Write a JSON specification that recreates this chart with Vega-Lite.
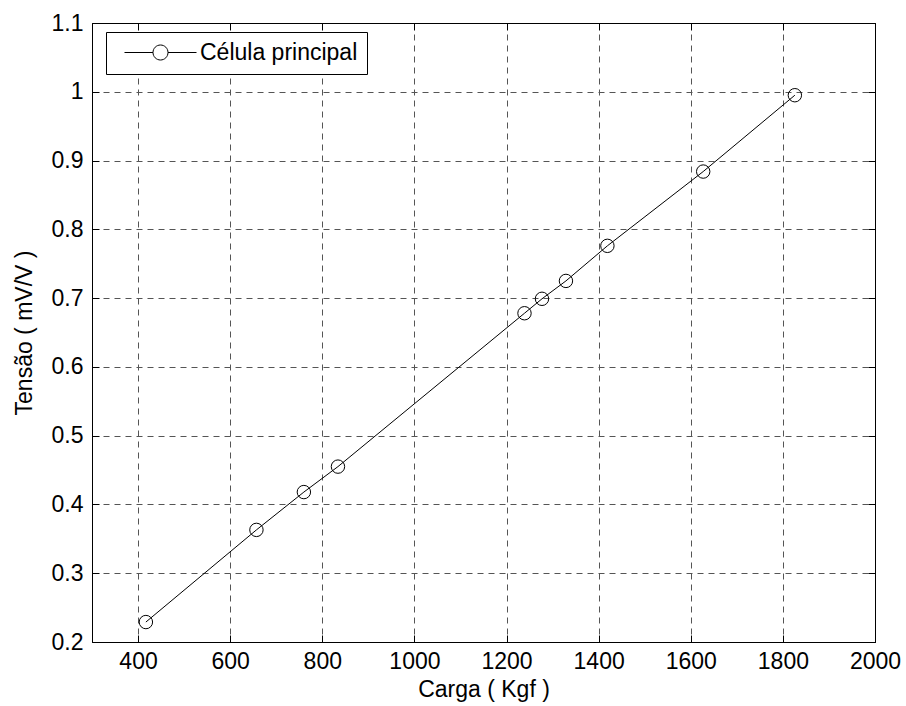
{
  "$schema": "https://vega.github.io/schema/vega-lite/v6.json",
  "width": 783,
  "height": 619,
  "autosize": {"type": "none"},
  "padding": {"left": 92, "top": 23, "right": 31, "bottom": 64},
  "background": "white",
  "config": {
    "font": "Liberation Sans",
    "view": {"stroke": "black", "strokeWidth": 1},
    "axis": {
      "labelFont": "Liberation Sans",
      "titleFont": "Liberation Sans",
      "labelFontSize": 23,
      "titleFontSize": 23,
      "titleFontWeight": "normal",
      "labelColor": "black",
      "titleColor": "black",
      "domainColor": "black",
      "tickColor": "black",
      "gridColor": "#555555",
      "gridDash": [6, 5],
      "gridOpacity": 1,
      "gridWidth": 1,
      "labelFlush": false,
      "labelOverlap": false
    }
  },
  "data": {
    "values": [
      {"carga": 417, "tensao": 0.229},
      {"carga": 657, "tensao": 0.363},
      {"carga": 760, "tensao": 0.418},
      {"carga": 834, "tensao": 0.455},
      {"carga": 1239, "tensao": 0.678},
      {"carga": 1277, "tensao": 0.699},
      {"carga": 1329, "tensao": 0.725},
      {"carga": 1419, "tensao": 0.776},
      {"carga": 1627, "tensao": 0.884},
      {"carga": 1826, "tensao": 0.995}
    ]
  },
  "layer": [
    {
      "mark": {"type": "line", "color": "black", "strokeWidth": 1},
      "encoding": {
        "x": {
          "field": "carga", "type": "quantitative",
          "scale": {"domain": [300, 2000], "nice": false, "zero": false},
          "axis": {
            "orient": "bottom",
            "values": [400, 600, 800, 1000, 1200, 1400, 1600, 1800, 2000],
            "format": "d",
            "title": "Carga ( Kgf )",
            "grid": true,
            "tickSize": -7,
            "labelPadding": 15,
            "titlePadding": 5
          }
        },
        "y": {
          "field": "tensao", "type": "quantitative",
          "scale": {"domain": [0.2, 1.1], "nice": false, "zero": false},
          "axis": {
            "orient": "left",
            "values": [0.2, 0.3, 0.4, 0.5, 0.6, 0.7, 0.8, 0.9, 1.0, 1.1],
            "format": "~g",
            "title": "Tensão ( mV/V )",
            "grid": true,
            "tickSize": -7,
            "labelPadding": 16,
            "titlePadding": 15
          }
        },
        "color": {
          "datum": "Célula principal",
          "type": "nominal",
          "scale": {"range": ["black"]},
          "legend": {
            "title": null,
            "orient": "none",
            "legendX": 14,
            "legendY": 9,
            "padding": 9,
            "strokeColor": "black",
            "fillColor": "white",
            "cornerRadius": 0,
            "labelFont": "Liberation Sans",
            "labelFontSize": 23,
            "labelLimit": 400,
            "labelColor": "black",
            "labelOffset": 28,
            "symbolOffset": 34,
            "symbolType": "M-4.8,0H-1M1,0H4.8M1,0A1,1,0,1,1,-1,0A1,1,0,1,1,1,0",
            "symbolSize": 225,
            "symbolStrokeColor": "black",
            "symbolFillColor": "transparent",
            "symbolStrokeWidth": 1
          }
        }
      }
    },
    {
      "mark": {"type": "point", "shape": "circle", "filled": false, "color": "black", "size": 180, "strokeWidth": 1, "opacity": 1},
      "encoding": {
        "x": {
          "field": "carga", "type": "quantitative",
          "axis": {
            "orient": "top",
            "values": [400, 600, 800, 1000, 1200, 1400, 1600, 1800, 2000],
            "labels": false,
            "title": null,
            "grid": false,
            "tickSize": -7
          }
        },
        "y": {
          "field": "tensao", "type": "quantitative",
          "axis": {
            "orient": "right",
            "values": [0.2, 0.3, 0.4, 0.5, 0.6, 0.7, 0.8, 0.9, 1.0, 1.1],
            "labels": false,
            "title": null,
            "grid": false,
            "tickSize": -7
          }
        }
      }
    }
  ],
  "resolve": {"axis": {"x": "independent", "y": "independent"}}
}
